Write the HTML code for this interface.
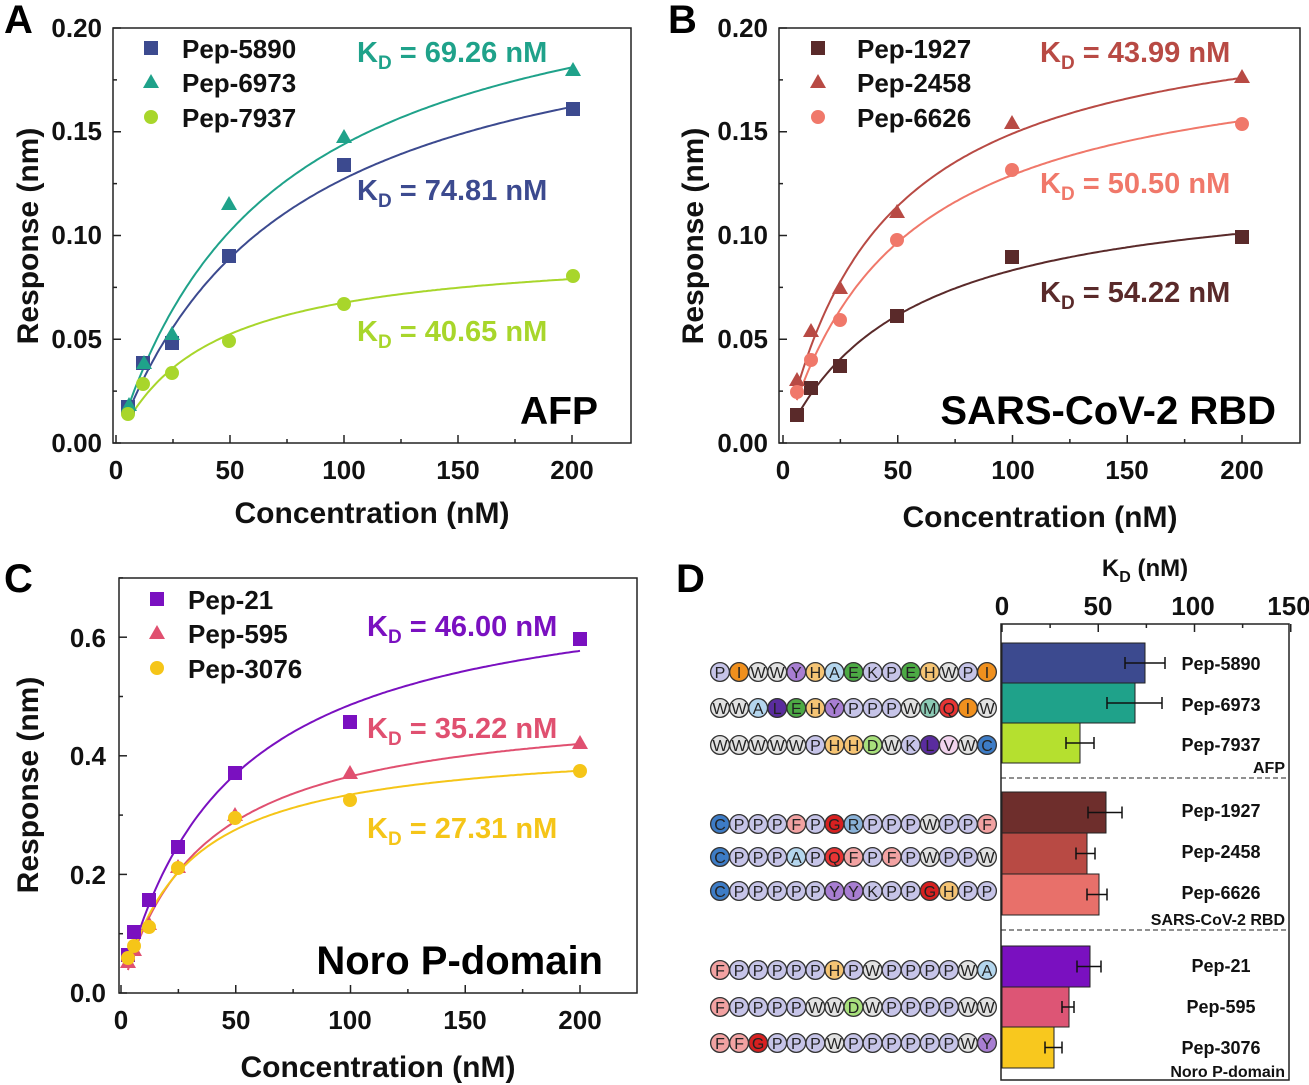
<!DOCTYPE html>
<html><head><meta charset="utf-8"><style>
html,body{margin:0;padding:0;background:#fff}
svg{display:block;font-family:"Liberation Sans",Arial,sans-serif}
.t{font-weight:bold;font-size:26px;fill:#111}
.ax{font-weight:bold;font-size:30px;fill:#111}
.pl{font-weight:bold;font-size:40px;fill:#000}
.lg{font-weight:bold;font-size:26px;fill:#111}
.kd{font-weight:bold;font-size:29px}
.sq{font-size:16px;fill:#222;text-anchor:middle}
.bl{font-weight:bold;font-size:18px;fill:#111;text-anchor:middle}
</style></head><body>
<svg id="s" width="1309" height="1085" viewBox="0 0 1309 1085" xmlns="http://www.w3.org/2000/svg">
<g fill="none" stroke="#222" stroke-width="1.5">
<rect x="113" y="28" width="518" height="415"/>
<rect x="779" y="28" width="521" height="415"/>
<rect x="119" y="578" width="518" height="415"/>
<rect x="1001" y="624" width="288" height="456"/>
</g>
<g id="ticks" stroke="#222" stroke-width="1.5"></g>
<g id="plots"></g>
<g id="seq"></g>
<text class="pl" x="4" y="33">A</text>
<text class="pl" x="668" y="33">B</text>
<text class="pl" x="4" y="592">C</text>
<text class="pl" x="676" y="592">D</text>
<g class="t" text-anchor="end">
<text x="102" y="452">0.00</text><text x="102" y="348">0.05</text><text x="102" y="244">0.10</text><text x="102" y="140">0.15</text><text x="102" y="37">0.20</text>
<text x="768" y="452">0.00</text><text x="768" y="348">0.05</text><text x="768" y="244">0.10</text><text x="768" y="140">0.15</text><text x="768" y="37">0.20</text>
<text x="106" y="1002">0.0</text><text x="106" y="884">0.2</text><text x="106" y="765">0.4</text><text x="106" y="647">0.6</text>
</g>
<g class="t" text-anchor="middle">
<text x="116" y="479">0</text><text x="230" y="479">50</text><text x="344" y="479">100</text><text x="458" y="479">150</text><text x="572" y="479">200</text>
<text x="783" y="479">0</text><text x="898" y="479">50</text><text x="1013" y="479">100</text><text x="1127" y="479">150</text><text x="1242" y="479">200</text>
<text x="121" y="1029">0</text><text x="236" y="1029">50</text><text x="350" y="1029">100</text><text x="465" y="1029">150</text><text x="580" y="1029">200</text>
<text x="1002" y="615">0</text><text x="1098" y="615">50</text><text x="1193" y="615">100</text><text x="1289" y="615">150</text>
</g>
<text class="ax" x="372" y="523" text-anchor="middle">Concentration (nM)</text>
<text class="ax" x="1040" y="527" text-anchor="middle">Concentration (nM)</text>
<text class="ax" x="378" y="1077" text-anchor="middle">Concentration (nM)</text>
<text class="ax" transform="translate(38,236) rotate(-90)" text-anchor="middle">Response (nm)</text>
<text class="ax" transform="translate(703,236) rotate(-90)" text-anchor="middle">Response (nm)</text>
<text class="ax" transform="translate(38,785) rotate(-90)" text-anchor="middle">Response (nm)</text>
<text x="1145" y="576" text-anchor="middle" style="font-weight:bold;font-size:24px;fill:#111">K<tspan font-size="16" dy="6">D</tspan><tspan dy="-6"> (nM)</tspan></text>
<text class="lg" x="182" y="58">Pep-5890</text><text class="lg" x="182" y="92">Pep-6973</text><text class="lg" x="182" y="127">Pep-7937</text>
<text class="lg" x="857" y="58">Pep-1927</text><text class="lg" x="857" y="92">Pep-2458</text><text class="lg" x="857" y="127">Pep-6626</text>
<text class="lg" x="188" y="609">Pep-21</text><text class="lg" x="188" y="643">Pep-595</text><text class="lg" x="188" y="678">Pep-3076</text>
<text class="kd" x="357" y="62" fill="#1fa28a">K<tspan font-size="19" dy="7">D</tspan><tspan dy="-7"> = 69.26 nM</tspan></text>
<text class="kd" x="357" y="200" fill="#3c4a8f">K<tspan font-size="19" dy="7">D</tspan><tspan dy="-7"> = 74.81 nM</tspan></text>
<text class="kd" x="357" y="341" fill="#a8d62b">K<tspan font-size="19" dy="7">D</tspan><tspan dy="-7"> = 40.65 nM</tspan></text>
<text class="kd" x="1040" y="62" fill="#b84a44">K<tspan font-size="19" dy="7">D</tspan><tspan dy="-7"> = 43.99 nM</tspan></text>
<text class="kd" x="1040" y="193" fill="#f0786a">K<tspan font-size="19" dy="7">D</tspan><tspan dy="-7"> = 50.50 nM</tspan></text>
<text class="kd" x="1040" y="302" fill="#5a2a2a">K<tspan font-size="19" dy="7">D</tspan><tspan dy="-7"> = 54.22 nM</tspan></text>
<text class="kd" x="367" y="636" fill="#7a10c0">K<tspan font-size="19" dy="7">D</tspan><tspan dy="-7"> = 46.00 nM</tspan></text>
<text class="kd" x="367" y="738" fill="#e05070">K<tspan font-size="19" dy="7">D</tspan><tspan dy="-7"> = 35.22 nM</tspan></text>
<text class="kd" x="367" y="838" fill="#f5c518">K<tspan font-size="19" dy="7">D</tspan><tspan dy="-7"> = 27.31 nM</tspan></text>
<text x="598" y="424" text-anchor="end" style="font-weight:bold;font-size:39px">AFP</text>
<text x="1276" y="424" text-anchor="end" style="font-weight:bold;font-size:40px">SARS-CoV-2 RBD</text>
<text x="603" y="974" text-anchor="end" style="font-weight:bold;font-size:40px">Noro P-domain</text>
<g class="bl">
<text x="1221" y="670">Pep-5890</text><text x="1221" y="711">Pep-6973</text><text x="1221" y="751">Pep-7937</text>
<text x="1221" y="817">Pep-1927</text><text x="1221" y="858">Pep-2458</text><text x="1221" y="899">Pep-6626</text>
<text x="1221" y="972">Pep-21</text><text x="1221" y="1013">Pep-595</text><text x="1221" y="1054">Pep-3076</text>
</g>
<g style="font-weight:bold;font-size:16px;fill:#111" text-anchor="end">
<text x="1285" y="773">AFP</text><text x="1285" y="925">SARS-CoV-2 RBD</text><text x="1285" y="1077">Noro P-domain</text>
</g>
<line x1="1001" y1="778" x2="1289" y2="778" stroke="#222" stroke-dasharray="5,3"/>
<line x1="1001" y1="930" x2="1289" y2="930" stroke="#222" stroke-dasharray="5,3"/>
<g class="sq">
<text x="720 739.1 758.1 777.2 796.3 815.4 834.4 853.5 872.6 891.6 910.7 929.8 948.8 967.9 987" y="678">PIWWYHAEKPEHWPI</text>
<text x="720 739.1 758.1 777.2 796.3 815.4 834.4 853.5 872.6 891.6 910.7 929.8 948.8 967.9 987" y="714">WWALEHYPPPWMQIW</text>
<text x="720 739.1 758.1 777.2 796.3 815.4 834.4 853.5 872.6 891.6 910.7 929.8 948.8 967.9 987" y="751">WWWWWPHHDWKLVWC</text>
<text x="720 739.1 758.1 777.2 796.3 815.4 834.4 853.5 872.6 891.6 910.7 929.8 948.8 967.9 987" y="830">CPPPFPGRPPPWPPF</text>
<text x="720 739.1 758.1 777.2 796.3 815.4 834.4 853.5 872.6 891.6 910.7 929.8 948.8 967.9 987" y="863">CPPPAPQFPFPWPPW</text>
<text x="720 739.1 758.1 777.2 796.3 815.4 834.4 853.5 872.6 891.6 910.7 929.8 948.8 967.9 987" y="897">CPPPPPYYKPPGHPP</text>
<text x="720 739.1 758.1 777.2 796.3 815.4 834.4 853.5 872.6 891.6 910.7 929.8 948.8 967.9 987" y="976">FPPPPPHPWPPPPWA</text>
<text x="720 739.1 758.1 777.2 796.3 815.4 834.4 853.5 872.6 891.6 910.7 929.8 948.8 967.9 987" y="1013">FPPPPWWDWPPPPWW</text>
<text x="720 739.1 758.1 777.2 796.3 815.4 834.4 853.5 872.6 891.6 910.7 929.8 948.8 967.9 987" y="1049">FFGPPPWPPPPPPWY</text>
</g>
</svg>
<script>
var NS="http://www.w3.org/2000/svg";
function el(p,t,a){var e=document.createElementNS(NS,t);for(var k in a)e.setAttribute(k,a[k]);p.appendChild(e);return e;}
var T=document.getElementById('ticks'),P=document.getElementById('plots'),S=document.getElementById('seq');
[0,25,50,75,100,125,150,175,200].forEach(function(v,i){var l=i%2==0?8:4;
 el(T,'line',{x1:116+2.28*v,x2:116+2.28*v,y1:443,y2:443-l});
 el(T,'line',{x1:783+2.295*v,x2:783+2.295*v,y1:443,y2:443-l});
 el(T,'line',{x1:121+2.295*v,x2:121+2.295*v,y1:993,y2:993-l});});
[0,.025,.05,.075,.1,.125,.15,.175,.2].forEach(function(v,i){var l=i%2==0?8:4,y=443-2075*v;
 el(T,'line',{x1:113,x2:113+l,y1:y,y2:y});el(T,'line',{x1:779,x2:779+l,y1:y,y2:y});});
[0,.1,.2,.3,.4,.5,.6,.7].forEach(function(v,i){var l=i%2==0?8:4,y=993-593*v;el(T,'line',{x1:119,x2:119+l,y1:y,y2:y});});
[0,25,50,75,100,125,150].forEach(function(v,i){var x=1002+1.925*v;el(T,'line',{x1:x,x2:x,y1:624,y2:624+(i%2==0?8:4)});});
function curve(x0,kx,y0,ky,B,K,xs,c){var d="";for(var x=xs;x<=200;x+=1){var y=B*x/(K+x);d+=(d?"L":"M")+(x0+kx*x).toFixed(1)+","+(y0-ky*y).toFixed(1);}
 el(P,'path',{d:d,fill:'none',stroke:c,'stroke-width':2});}
function mk(x,y,c,t,s){s=s||7;if(t=='s')el(P,'rect',{x:x-s,y:y-s,width:2*s,height:2*s,fill:c});
 else if(t=='t')el(P,'polygon',{points:(x)+','+(y-s-1)+' '+(x-s-1)+','+(y+s-1)+' '+(x+s+1)+','+(y+s-1),fill:c});
 else el(P,'circle',{cx:x,cy:y,r:s,fill:c});}
curve(116,2.28,443,2075,.2226,74.81,6,'#3c4a8f');curve(116,2.28,443,2075,.2437,69.26,6,'#1fa28a');curve(116,2.28,443,2075,.0951,40.65,6,'#a8d62b');
curve(783,2.295,443,2075,.1284,54.22,6,'#5a2a2a');curve(783,2.295,443,2075,.2147,43.99,6,'#b84a44');curve(783,2.295,443,2075,.1944,50.5,6,'#f0786a');
curve(121,2.295,993,593,.7097,46,3,'#7a10c0');curve(121,2.295,993,593,.494,35.22,3,'#e05070');curve(121,2.295,993,593,.426,27.31,3,'#f5c518');
function pts(a,c,t){a.forEach(function(p){mk(p[0],p[1],c,t);});}
pts([[128,407],[143,363],[172,343],[229,256],[344,165],[573,109]],'#3c4a8f','s');
pts([[129,405],[144,363],[172,334],[229,204],[344,137],[573,70]],'#1fa28a','t');
pts([[128,414],[143,384],[172,373],[229,341],[344,304],[573,276]],'#a8d62b','c');
pts([[797,415],[811,388],[840,366],[897,316],[1012,257],[1242,237]],'#5a2a2a','s');
pts([[797,380],[811,331],[840,288],[897,212],[1012,123],[1242,77]],'#b84a44','t');
pts([[797,392],[811,360],[840,320],[897,240],[1012,170],[1242,124]],'#f0786a','c');
pts([[128,955],[134,932],[149,900],[178,847],[235,773],[350,722],[580,639]],'#7a10c0','s');
pts([[128,962],[134,950],[149,924],[178,867],[235,815],[350,773],[580,743]],'#e05070','t');
pts([[128,958],[134,946],[149,927],[178,868],[235,818],[350,800],[580,771]],'#f5c518','c');
mk(151,48,'#3c4a8f','s');mk(151,82,'#1fa28a','t');mk(151,117,'#a8d62b','c');
mk(818,48,'#5a2a2a','s');mk(818,82,'#b84a44','t');mk(818,117,'#f0786a','c');
mk(157,599,'#7a10c0','s');mk(157,633,'#e05070','t');mk(157,668,'#f5c518','c');
[[643,683,1145,1125,1165,'#3c4a8f'],[683,723,1135,1107,1162,'#1fa28a'],[723,763,1080,1066,1094,'#b5e02f'],
 [792,833,1106,1088,1122,'#6e2e2c'],[833,874,1087,1076,1095,'#b84a44'],[874,915,1099,1087,1107,'#e8706a'],
 [946,987,1090,1077,1101,'#7a10c0'],[987,1027,1069,1062,1074,'#dd5575'],[1027,1068,1054,1045,1062,'#f8c81e']].forEach(function(b){
 el(P,'rect',{x:1002,y:b[0],width:b[2]-1002,height:b[1]-b[0],fill:b[5],stroke:'#222','stroke-width':1});
 var m=(b[0]+b[1])/2;el(P,'path',{d:'M'+b[3]+','+m+'H'+b[4]+'M'+b[3]+','+(m-6)+'V'+(m+6)+'M'+b[4]+','+(m-6)+'V'+(m+6),stroke:'#111','stroke-width':1.5,fill:'none'});});
var col={P:'#c6c4e8',W:'#e2e2e2',I:'#f0901e',Y:'#a87ed2',H:'#f5c474',A:'#b4d6ee',E:'#4caa44',K:'#c6c4e8',L:'#5a2c9e',M:'#8ccbb6',Q:'#e83434',D:'#a8e07c',V:'#f2d4ee',C:'#3d7cc6',F:'#f2a2a2',G:'#d82020',R:'#8ab2d8'};
var rows=[[672,'PIWWYHAEKPEHWPI'],[708,'WWALEHYPPPWMQIW'],[745,'WWWWWPHHDWKLVWC'],[824,'CPPPFPGRPPPWPPF'],[857,'CPPPAPQFPFPWPPW'],[891,'CPPPPPYYKPPGHPP'],[970,'FPPPPPHPWPPPPWA'],[1007,'FPPPPWWDWPPPPWW'],[1043,'FFGPPPWPPPPPPWY']];
rows.forEach(function(r){for(var i=0;i<15;i++)el(S,'circle',{cx:720+19.07*i,cy:r[0],r:9.4,fill:col[r[1][i]],stroke:'#333','stroke-width':1.3});});
</script>
</body></html>
